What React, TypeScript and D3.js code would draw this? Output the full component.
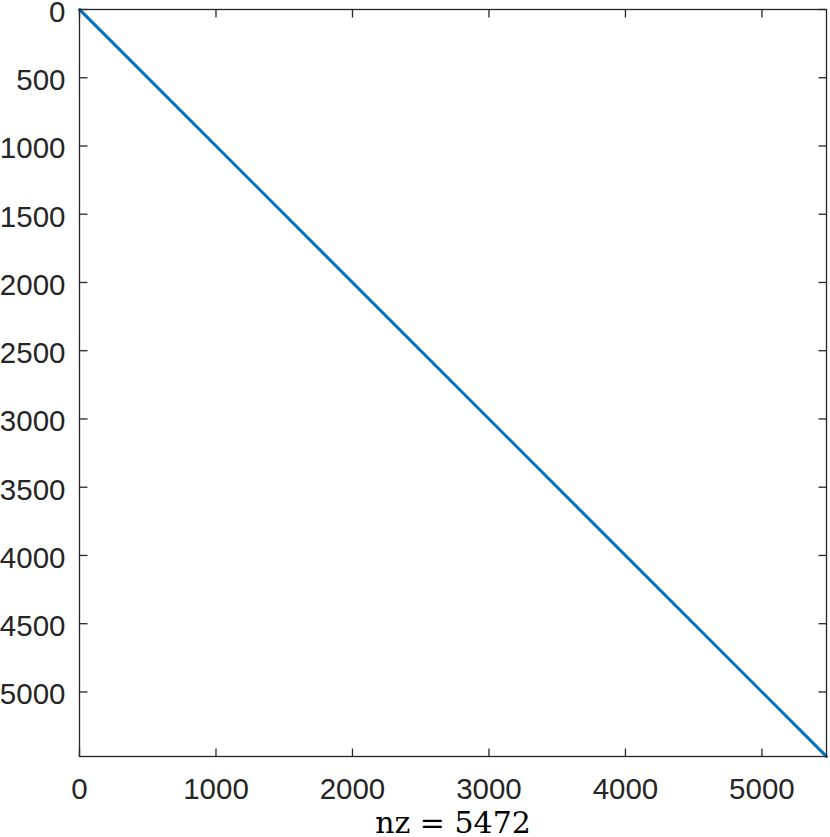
import React from "react";
import * as d3 from "d3";

const matrixSize = 5472;
const nz = 5472;
// nonzero pattern: the main diagonal (row = col) from first to last index
const diagonalStart = [1, 1];
const diagonalEnd = [5472, 5472];
const xTicks = [0, 1000, 2000, 3000, 4000, 5000];
const yTicks = [0, 500, 1000, 1500, 2000, 2500, 3000, 3500, 4000, 4500, 5000];

export default function App() {
  const W = 830, H = 837;
  const left = 79.5, top = 9.5, right = 826.5, bottom = 756.5;
  const x = d3.scaleLinear().domain([0, matrixSize + 1]).range([left, right]);
  const y = d3.scaleLinear().domain([0, matrixSize + 1]).range([top, bottom]);
  const tick = 8;
  const axisColor = "#262626";
  const fs = 29.5;
  const line = d3.line<number[]>().x(d => x(d[1])).y(d => y(d[0]));
  return (
    <svg width={W} height={H} style={{ position: "absolute", left: 0, top: 0 }}>
      <rect x={0} y={0} width={W} height={H} fill="#fff" />
      <path d={line([diagonalStart, diagonalEnd]) || ""} stroke="#0072BD" strokeWidth={3} fill="none" strokeLinecap="round" />
      <rect x={left} y={top} width={right - left} height={bottom - top} fill="none" stroke={axisColor} strokeWidth={1.3} />
      {xTicks.map(t => (
        <g key={"x" + t}>
          <line x1={x(t)} x2={x(t)} y1={bottom} y2={bottom - tick} stroke={axisColor} strokeWidth={1.3} />
          <line x1={x(t)} x2={x(t)} y1={top} y2={top + tick} stroke={axisColor} strokeWidth={1.3} />
          <text x={x(t)} y={799} textAnchor="middle" fontFamily="Liberation Sans, Arial, sans-serif" fontSize={fs} fill={axisColor}>{t}</text>
        </g>
      ))}
      {yTicks.map(t => (
        <g key={"y" + t}>
          <line x1={left} x2={left + tick} y1={y(t)} y2={y(t)} stroke={axisColor} strokeWidth={1.3} />
          <line x1={right} x2={right - tick} y1={y(t)} y2={y(t)} stroke={axisColor} strokeWidth={1.3} />
          <text x={left - 14} y={y(t) + 12.5} textAnchor="end" fontFamily="Liberation Sans, Arial, sans-serif" fontSize={fs} fill={axisColor}>{t}</text>
        </g>
      ))}
      <text x={(left + right) / 2} y={833} textAnchor="middle" fontFamily="DejaVu Serif, serif" fontSize={30} fill="#000">{`nz = ${nz}`}</text>
    </svg>
  );
}
